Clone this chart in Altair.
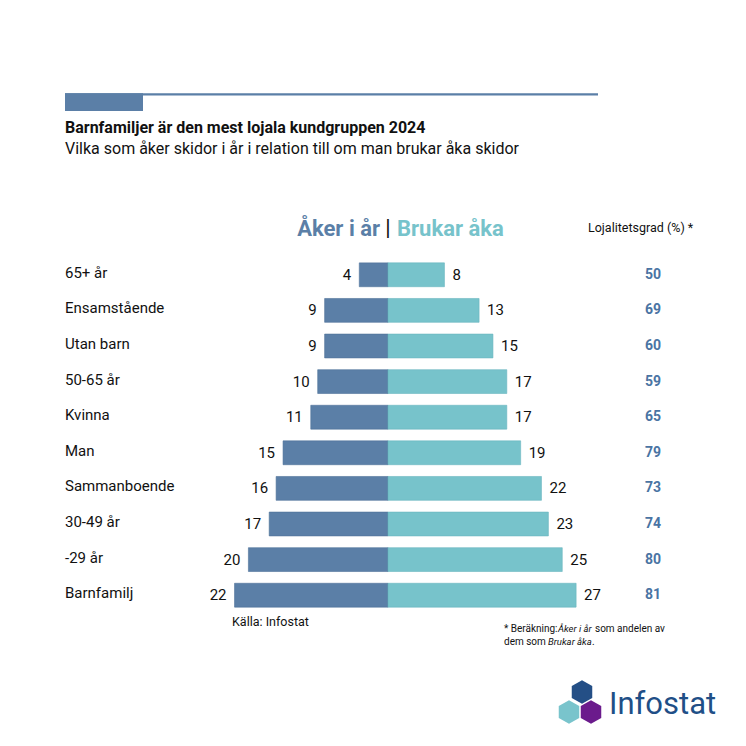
import altair as alt
import pandas as pd

categories = ["65+ år", "Ensamstående", "Utan barn", "50-65 år", "Kvinna",
              "Man", "Sammanboende", "30-49 år", "-29 år", "Barnfamilj"]
aker_i_ar = [4, 9, 9, 10, 11, 15, 16, 17, 20, 22]
brukar_aka = [8, 13, 15, 17, 17, 19, 22, 23, 25, 27]
lojalitet = [50, 69, 60, 59, 65, 79, 73, 74, 80, 81]

df = pd.DataFrame({"cat": categories, "aker": aker_i_ar,
                   "brukar": brukar_aka, "loyal": lojalitet})
df["neg"] = -df["aker"]

C_LEFT = "#5b7fa7"
C_RIGHT = "#77c3cb"
C_LOYAL = "#4a74a3"
FONT = "Roboto"

xs = alt.Scale(domain=[-380 / 6.93, 350 / 6.93])
ys = alt.Scale(domain=categories, range=[249, 605], paddingInner=0.33, paddingOuter=0.165)
Y = alt.Y("cat:N", sort=categories, scale=ys, axis=None)

base = alt.Chart(df)

left_bars = base.mark_bar(color=C_LEFT, xOffset=-1, stroke="#4f7299", strokeWidth=0.6).encode(
    x=alt.X("neg:Q", scale=xs, axis=None), x2=alt.datum(0), y=Y)
right_bars = base.mark_bar(color=C_RIGHT, xOffset=1, stroke="#69b6bf", strokeWidth=0.6).encode(
    x=alt.X("brukar:Q", scale=xs, axis=None), x2=alt.datum(0), y=Y)

left_txt = base.mark_text(align="right", baseline="middle", dx=-9, fontSize=15,
                          font=FONT, color="#111").encode(
    x=alt.X("neg:Q", scale=xs, axis=None), y=Y, text="aker:Q")
right_txt = base.mark_text(align="left", baseline="middle", dx=9, fontSize=15,
                           font=FONT, color="#111").encode(
    x=alt.X("brukar:Q", scale=xs, axis=None), y=Y, text="brukar:Q")

cat_txt = base.mark_text(align="left", baseline="middle", dy=-2, fontSize=15,
                         font=FONT, color="#111").encode(
    x=alt.value(57), y=Y, text="cat:N")
loyal_txt = base.mark_text(align="center", baseline="middle", fontSize=14,
                           font=FONT, fontWeight="bold", color=C_LOYAL).encode(
    x=alt.value(645), y=Y, text="loyal:Q")

one = pd.DataFrame({"a": [0]})


def txt(s, x, y, size, weight="normal", color="#111", align="left", style="normal"):
    return alt.Chart(one).mark_text(align=align, baseline="middle", fontSize=size,
                                    font=FONT, fontWeight=weight, fontStyle=style,
                                    color=color).encode(
        x=alt.value(x), y=alt.value(y), text=alt.value(s))


top_line = alt.Chart(one).mark_rule(color=C_LEFT, strokeWidth=2.2).encode(
    x=alt.value(57), x2=alt.value(590), y=alt.value(86.4))
top_rect = alt.Chart(one).mark_rect(color=C_LEFT).encode(
    x=alt.value(57), x2=alt.value(135), y=alt.value(85.3), y2=alt.value(103))

hex_path = "M0,-1 L0.866,-0.5 L0.866,0.5 L0,1 L-0.866,0.5 L-0.866,-0.5 Z"


def hexa(x, y, color):
    return alt.Chart(one).mark_point(shape=hex_path, filled=True, size=560, opacity=1,
                                     color=color, strokeWidth=0).encode(
        x=alt.value(x), y=alt.value(y))


layers = [
    top_line, top_rect,
    txt("Barnfamiljer är den mest lojala kundgruppen 2024", 57, 120, 16, "bold"),
    txt("Vilka som åker skidor i år i relation till om man brukar åka skidor", 57, 141, 16),
    txt("Åker i år", 372, 221, 22, "bold", C_LEFT, "right"),
    txt("|", 380, 220, 22, "normal", "#111", "center"),
    txt("Brukar åka", 389, 221, 22, "bold", C_RIGHT, "left"),
    txt("Lojalitetsgrad (%) *", 580, 220, 12.5, "normal", "#111"),
    left_bars, right_bars, left_txt, right_txt, cat_txt, loyal_txt,
    txt("Källa: Infostat", 224, 614, 12.5),
    txt("* Beräkning:", 496, 621, 10),
    txt("Åker i år", 550, 621, 9.5, style="italic"),
    txt("som andelen av", 587, 621, 10),
    txt("dem som", 496, 634, 10),
    txt("Brukar åka", 540, 634, 9.5, style="italic"),
    txt(".", 584, 634, 10),
    hexa(574, 684, "#244f86"),
    hexa(561, 704, "#79c4cc"),
    hexa(583, 704, "#6b1b8c"),
    txt("Infostat", 601, 697, 31, "normal", "#1f4f87"),
]

chart = alt.layer(*layers).properties(
    width=730, height=730,
    autosize=alt.AutoSizeParams(type="none"),
    padding=0,
).configure_view(stroke=None)

chart.save("out.html", embed_options={"renderer": "svg", "actions": False})
